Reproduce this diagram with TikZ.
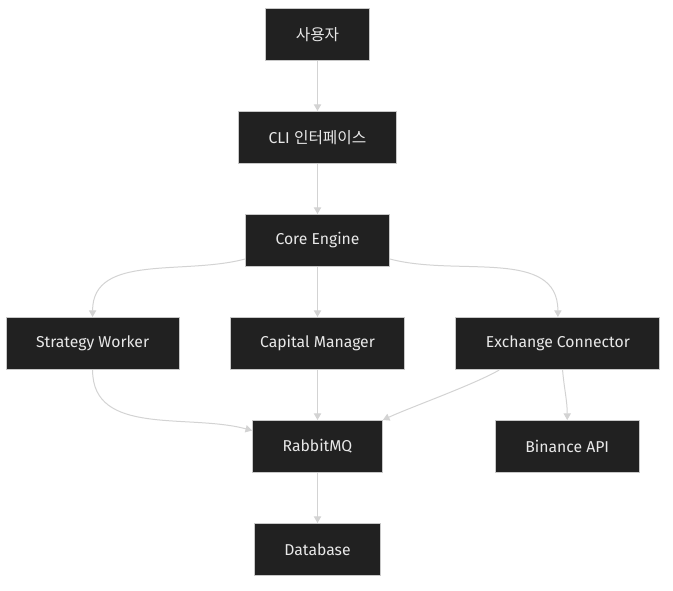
\documentclass[tikz,border=0pt]{standalone}
\usepackage{fontspec}
\setmainfont{Fira Sans}
\newfontfamily\krfont{Noto Sans CJK KR}
\usetikzlibrary{arrows.meta, positioning}
\definecolor{boxfill}{HTML}{212121}
\definecolor{boxline}{HTML}{C8C8C8}
\definecolor{linkgray}{HTML}{D3D3D3}
\definecolor{boxtext}{HTML}{E8E8E8}

\begin{document}
\begin{tikzpicture}[
    x = 0.75pt, y = -0.75pt,
    node distance = 37.5pt,
    block/.style = {draw=boxline, line width=0.75pt, rectangle, fill=boxfill, text=boxtext, minimum height=39pt, inner xsep=22.5pt, font=\fontsize{11.8}{14}\selectfont},
    line/.style = {-{Triangle[length=5pt, width=5.5pt]}, draw=linkgray, line width=0.75pt}
]

    % Frame
    \useasboundingbox (0,0) rectangle (673,590);

    % Nodes
    \node [block] (user) at (317.5,34.5) {\krfont 사용자};
    \node [block, below=of user] (cli) {CLI {\krfont 인터페이스}};
    \node [block, below=of cli] (core) {Core Engine};
    \node [block, below=of core] (capital) {Capital Manager};
    \node [block, left=of capital] (strategy) {Strategy Worker};
    \node [block, right=of capital] (exchange) {Exchange Connector};
    \node [block, below=of capital] (rabbit) {RabbitMQ};
    \node [block, below=of exchange, xshift=7pt] (binance) {Binance API};
    \node [block, below=of rabbit] (database) {Database};

    % Edges
    \draw [line] (user) -- (cli);
    \draw [line] (cli) -- (core);
    \draw [line] ([yshift=6pt]core.south west) to [out=195, in=90] (strategy.north);
    \draw [line] (core) -- (capital);
    \draw [line] ([yshift=6pt]core.south east) to [out=-15, in=90] (exchange.north);
    \draw [line] (strategy.south) to [out=-90, in=165] ([yshift=12pt]rabbit.west);
    \draw [line] (capital) -- (rabbit);
    \draw [line] ([xshift=-44pt]exchange.south) to [out=-150, in=25, looseness=0.6] (rabbit.north east);
    \draw [line] ([xshift=3.5pt]exchange.south) to [out=-85, in=90] (binance.north);
    \draw [line] (rabbit) -- (database);

\end{tikzpicture}
\end{document}
